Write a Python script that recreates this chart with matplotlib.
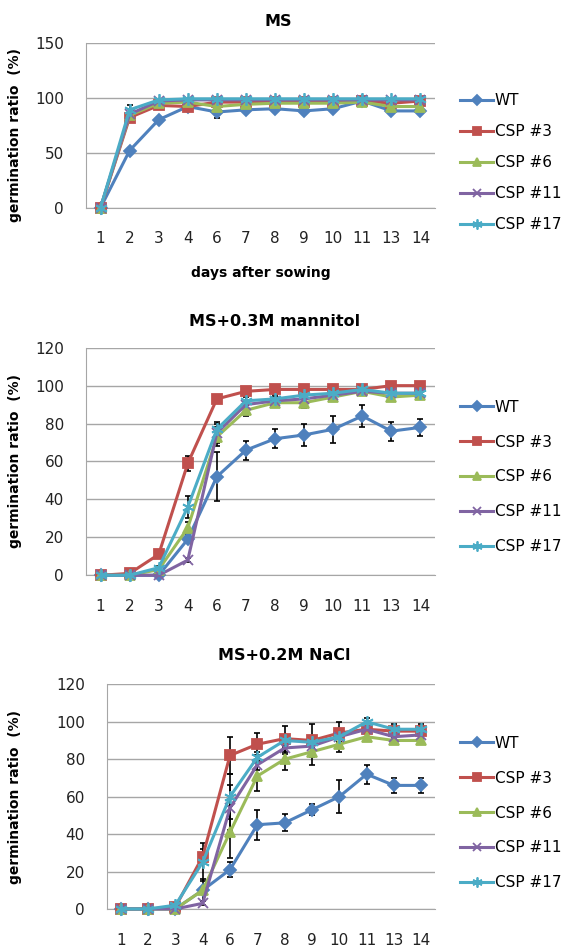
import numpy as np
import matplotlib
matplotlib.use("Agg")
import matplotlib.pyplot as plt

plt.rcParams['font.family'] = ['DejaVu Sans']

# ----------
# data
# ----------
days = ["1", "2", "3", "4", "6", "7", "8", "9", "10", "11", "13", "14"]
lines = ["WT", "CSP #3", "CSP #6", "CSP #11", "CSP #17"]

# MS
ms_wt = [0, 52, 80, 92, 87, 89, 90, 88, 90, 97, 88, 88]
ms_csp3 = [0, 82, 93, 92, 96, 96, 96, 96, 96, 97, 95, 97]
ms_csp6 = [0, 84, 95, 96, 92, 94, 95, 95, 95, 96, 92, 92]
ms_csp11 = [0, 85, 97, 98, 98, 98, 98, 98, 98, 98, 98, 98]
ms_csp17 = [0, 89, 98, 99, 99, 99, 99, 99, 99, 99, 99, 99]
ms_wt_err = [0, 2, 2, 2, 5, 2, 2, 2, 2, 2, 2, 2]
ms_csp3_err = [0, 2, 1, 1, 1, 1, 1, 1, 1, 1, 1, 1]
ms_csp6_err = [0, 2, 1, 1, 1, 1, 1, 1, 1, 1, 1, 1]
ms_csp11_err = [0, 2, 1, 1, 1, 1, 1, 1, 1, 1, 1, 1]
ms_csp17_err = [0, 4, 1, 1, 1, 1, 1, 1, 1, 1, 1, 1]

# MS + 0.3M mannitol
man_wt = [0, 0, 0, 19, 52, 66, 72, 74, 77, 84, 76, 78]
man_csp3 = [0, 1, 11, 59, 93, 97, 98, 98, 98, 98, 100, 100]
man_csp6 = [0, 0, 3, 25, 73, 87, 91, 91, 94, 97, 94, 95]
man_csp11 = [0, 0, 0, 8, 75, 90, 92, 93, 95, 97, 96, 96]
man_csp17 = [0, 0, 4, 36, 77, 92, 93, 95, 96, 98, 96, 96]
man_wt_err = [0, 0, 0, 2, 13, 5, 5, 6, 7, 6, 5, 4.5]
man_csp3_err = [0, 0, 1, 4, 1, 1, 1, 1, 1, 1, 1, 1]
man_csp6_err = [0, 0, 0, 3, 5, 3, 2, 3, 2, 1, 2, 2]
man_csp11_err = [0, 0, 0, 1, 5, 2, 2, 2, 2, 1, 2, 2]
man_csp17_err = [0, 0, 1, 6, 4, 2, 2, 2, 2, 1, 2, 2]

# MS + 0.2M NaCl
nacl_wt = [0, 0, 0, 10, 21, 45, 46, 53, 60, 72, 66, 66]
nacl_csp3 = [0, 0, 1, 28, 82, 88, 91, 90, 94, 96, 95, 95]
nacl_csp6 = [0, 0, 0, 10, 41, 71, 80, 84, 88, 92, 90, 90]
nacl_csp11 = [0, 0, 0, 3, 54, 77, 86, 87, 92, 96, 92, 93]
nacl_csp17 = [0, 0, 2, 25, 60, 81, 90, 89, 92, 100, 96, 96]
nacl_wt_err = [0, 0, 0, 1, 4, 8, 4.5, 3, 9, 5, 4, 4]
nacl_csp3_err = [0, 0, 0, 4, 10, 6, 7, 9, 6, 2, 4, 4]
nacl_csp6_err = [0, 0, 0, 6, 14, 8, 6, 7, 4, 2, 2, 2]
nacl_csp11_err = [0, 0, 0, 1, 12, 3, 3, 3, 3, 2, 2, 2]
nacl_csp17_err = [0, 0, 1, 10, 12, 3, 3, 3, 3, 2, 2, 2]

colors = ["#4F81BD", "#C0504D", "#9BBB59", "#8064A2", "#4BACC6"]
markers = ["D", "s", "^", "x", (6, 2, 0)]
msizes = [6, 7, 7, 7, 9]

panels = [
    dict(title="MS", ymax=150, step=50,
         vals=[ms_wt, ms_csp3, ms_csp6, ms_csp11, ms_csp17],
         errs=[ms_wt_err, ms_csp3_err, ms_csp6_err, ms_csp11_err, ms_csp17_err],
         rect=[0.1530, 0.7811, 0.6210, 0.1739], title_xy=(278, 22),
         ylab_y=0.44, ylab_x=-0.183, leg_y=0.8288, xlabel=True),
    dict(title="MS+0.3M mannitol", ymax=120, step=20,
         vals=[man_wt, man_csp3, man_csp6, man_csp11, man_csp17],
         errs=[man_wt_err, man_csp3_err, man_csp6_err, man_csp11_err, man_csp17_err],
         rect=[0.1530, 0.3938, 0.6210, 0.2398], title_xy=(275, 321),
         ylab_y=0.5, ylab_x=-0.183, leg_y=0.4974, xlabel=False),
    dict(title="MS+0.2M NaCl", ymax=120, step=20,
         vals=[nacl_wt, nacl_csp3, nacl_csp6, nacl_csp11, nacl_csp17],
         errs=[nacl_wt_err, nacl_csp3_err, nacl_csp6_err, nacl_csp11_err, nacl_csp17_err],
         rect=[0.1904, 0.0422, 0.5836, 0.2367], title_xy=(284, 656),
         ylab_y=0.5, ylab_x=-0.259, leg_y=0.1433, xlabel=False),
]

W, H = 562, 949
fig = plt.figure(figsize=(W / 100, H / 100), dpi=100)
x = np.arange(len(days))

for p in panels:
    ax = fig.add_axes(p["rect"])
    handles = []
    for i in range(len(lines)):
        y = np.array(p["vals"][i], dtype=float)
        e = np.array(p["errs"][i], dtype=float)
        m = e > 0
        ax.errorbar(x[m], y[m], yerr=e[m], fmt="none", ecolor="black",
                    elinewidth=1.2, capsize=2.5, capthick=1.2, zorder=2.5,
                    clip_on=False)
        mfc = colors[i]
        h, = ax.plot(x, y, color=colors[i], lw=2.2, marker=markers[i],
                     ms=msizes[i], mfc=mfc, mec=colors[i], mew=1.3,
                     zorder=3 + i * 0.1, clip_on=False, label=lines[i])
        handles.append(h)

    ax.set_xlim(-0.5, len(days) - 0.5)
    ax.set_ylim(0, p["ymax"])
    ax.set_yticks(np.arange(0, p["ymax"] + 1, p["step"]))
    ax.set_xticks(x)
    ax.set_xticklabels(days)
    ax.yaxis.grid(True, color="#A6A6A6", lw=1)
    ax.set_axisbelow(True)
    for s in ["top", "right"]:
        ax.spines[s].set_visible(False)
    ax.spines["left"].set_color("#A6A6A6")
    ax.spines["bottom"].set_color("#A6A6A6")
    ax.tick_params(axis="both", length=0, labelsize=11, colors="#222222")
    ax.tick_params(axis="y", pad=16)
    ax.tick_params(axis="x", pad=17)

    ax.set_ylabel("germination ratio  (%)", fontsize=10, fontweight="bold")
    ax.yaxis.set_label_coords(p["ylab_x"], p["ylab_y"])
    if p["xlabel"]:
        ax.set_xlabel("days after sowing", fontsize=10, fontweight="bold",
                      labelpad=14)

    tx, ty = p["title_xy"]
    fig.text(tx / W, 1 - ty / H, p["title"], ha="center", va="center",
             fontsize=11.5, fontweight="bold")

    fig.legend(handles=handles, loc="center left",
               bbox_to_anchor=(0.818, p["leg_y"]), frameon=False,
               fontsize=11, handlelength=2.2, handletextpad=0.1,
               labelspacing=1.05 if p["xlabel"] else 1.3,
               borderpad=0, borderaxespad=0, markerscale=0.8)

fig.savefig("out.png", dpi=100)
